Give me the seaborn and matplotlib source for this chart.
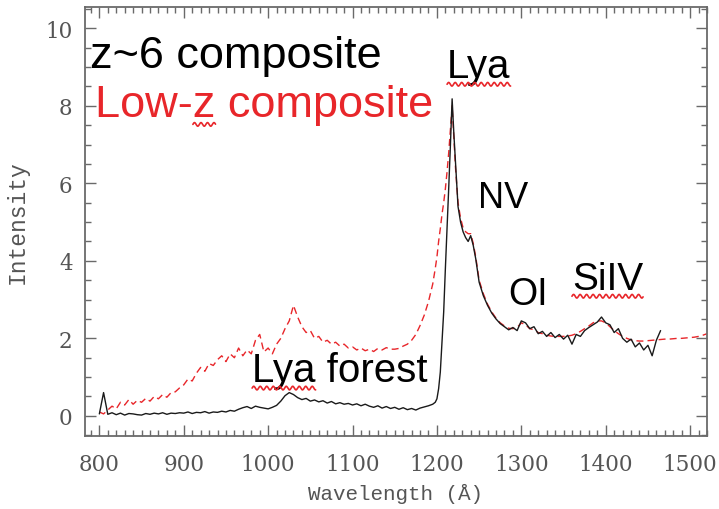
import numpy as np
import pandas as pd
import matplotlib
matplotlib.use("Agg")
import matplotlib.pyplot as plt
from matplotlib.lines import Line2D
from matplotlib.transforms import IdentityTransform
from matplotlib.ticker import MultipleLocator
import seaborn as sns

# ---------------- data ----------------
wl_forest = list(range(800, 1200, 5))
wl_peak = [1198, 1200, 1202, 1204, 1206, 1208, 1210, 1212, 1214, 1216, 1218,
           1220, 1222, 1225, 1228, 1231, 1234, 1237, 1240, 1243, 1246]
wl_black_red = list(range(1250, 1470, 5))
wl_red_red = list(range(1250, 1525, 5))

z6_forest = [
    0.05, 0.60, 0.04, 0.08, 0.03, 0.07, 0.02, 0.06, 0.05, 0.03,
    0.02, 0.06, 0.04, 0.07, 0.05, 0.08, 0.04, 0.07, 0.06, 0.08,
    0.07, 0.10, 0.06, 0.09, 0.08, 0.11, 0.07, 0.10, 0.09, 0.12,
    0.10, 0.14, 0.12, 0.17, 0.21, 0.24, 0.19, 0.25, 0.22, 0.20,
    0.18, 0.22, 0.27, 0.38, 0.52, 0.60, 0.55, 0.47, 0.42, 0.45,
    0.38, 0.41, 0.36, 0.39, 0.33, 0.37, 0.31, 0.34, 0.30, 0.32,
    0.28, 0.31, 0.26, 0.30, 0.25, 0.22, 0.26, 0.20, 0.24, 0.19,
    0.22, 0.17, 0.21, 0.16, 0.19, 0.15, 0.20, 0.23, 0.26, 0.30,
]
z6_peak = [0.35, 0.44, 0.70, 1.13, 1.90, 2.68, 3.80, 4.83, 5.90, 7.00, 8.18,
           7.30, 6.55, 5.40, 5.00, 4.75, 4.60, 4.50, 4.65, 4.40, 4.05]
z6_red = [
    3.45, 3.10, 2.85, 2.65, 2.50, 2.38, 2.30, 2.22, 2.28, 2.20,
    2.45, 2.40, 2.25, 2.30, 2.12, 2.18, 2.05, 2.15, 2.02, 2.10,
    1.98, 2.08, 1.85, 2.10, 2.05, 2.20, 2.28, 2.35, 2.42, 2.55,
    2.40, 2.35, 2.15, 2.25, 2.00, 1.90, 1.98, 1.78, 1.88, 1.70,
    1.82, 1.55, 1.95, 2.20,
]

lowz_forest = [
    0.10, 0.05, 0.15, 0.25, 0.18, 0.35, 0.28, 0.42, 0.30, 0.40,
    0.35, 0.45, 0.38, 0.50, 0.44, 0.55, 0.48, 0.60, 0.62, 0.72,
    0.80, 0.95, 0.90, 1.10, 1.25, 1.15, 1.35, 1.30, 1.45, 1.55,
    1.40, 1.60, 1.50, 1.75, 1.55, 1.70, 1.60, 1.95, 2.10, 1.65,
    1.75, 1.60, 1.85, 2.00, 2.25, 2.45, 2.85, 2.55, 2.30, 2.15,
    2.20, 2.00, 2.05, 1.90, 1.95, 1.85, 1.90, 1.80, 1.85, 1.75,
    1.78, 1.70, 1.75, 1.68, 1.72, 1.66, 1.74, 1.70, 1.76, 1.72,
    1.72, 1.74, 1.80, 1.85, 1.95, 2.10, 2.33, 2.60, 2.95, 3.40,
]
lowz_peak = [3.80, 4.10, 4.50, 4.83, 5.20, 5.50, 5.86, 6.30, 6.80, 7.40, 8.00,
             7.20, 6.40, 5.50, 5.10, 4.85, 4.75, 4.70, 4.70, 4.45, 4.10]
lowz_red = [
    3.50, 3.15, 2.88, 2.68, 2.52, 2.40, 2.32, 2.26, 2.25, 2.28,
    2.40, 2.35, 2.25, 2.22, 2.15, 2.12, 2.08, 2.06, 2.05, 2.05,
    2.05, 2.06, 2.08, 2.12, 2.18, 2.25, 2.32, 2.40, 2.45, 2.45,
    2.40, 2.30, 2.20, 2.12, 2.05, 2.00, 1.96, 1.94, 1.93, 1.93,
    1.94, 1.95, 1.96, 1.97, 1.98, 1.98, 1.99, 2.00, 2.00, 2.01,
    2.02, 2.03, 2.05, 2.08, 2.12,
]

x_ticks = [800, 900, 1000, 1100, 1200, 1300, 1400, 1500]
y_ticks = [0, 2, 4, 6, 8, 10]

z6 = pd.DataFrame({"wl": wl_forest + wl_peak + wl_black_red,
                   "flux": z6_forest + z6_peak + z6_red})
lowz = pd.DataFrame({"wl": wl_forest + wl_peak + wl_red_red,
                     "flux": lowz_forest + lowz_peak + lowz_red})

# ---------------- style ----------------
sns.set_theme(style="ticks")
plt.rcParams["font.family"] = ["Liberation Sans", "DejaVu Sans"]

GRAY = "#6a6a6a"
LABEL = "#555555"
RED = "#e8262a"

fig = plt.figure(figsize=(7.19, 5.10), dpi=100)
ax = fig.add_axes([85 / 719, 1 - 437 / 510, (707 - 85) / 719, (437 - 8) / 510])
ax.set_facecolor("white")

sns.lineplot(data=lowz, x="wl", y="flux", ax=ax, color=RED, lw=1.0,
             linestyle=(0, (5, 3)), estimator=None, sort=False)
sns.lineplot(data=z6, x="wl", y="flux", ax=ax, color="#1a1a1a", lw=1.0,
             estimator=None, sort=False)

ax.set_xlim(783, 1520)
ax.set_ylim(-0.52, 10.55)
ax.set_xticks(x_ticks)
ax.set_yticks(y_ticks)
ax.xaxis.set_minor_locator(MultipleLocator(10))
ax.yaxis.set_minor_locator(MultipleLocator(0.5))

tickfont = "DejaVu Serif"
mono = "Liberation Mono"
ax.tick_params(which="both", direction="in", top=True, right=True,
               color=GRAY, width=1.0)
ax.tick_params(which="major", length=8, labelsize=15.5, labelcolor=LABEL)
ax.tick_params(axis="x", which="major", pad=12)
ax.tick_params(axis="y", which="major", pad=9)
ax.tick_params(which="minor", length=4)
for lab in ax.get_xticklabels() + ax.get_yticklabels():
    lab.set_fontfamily(tickfont)
for sp in ax.spines.values():
    sp.set_color(GRAY)
    sp.set_linewidth(1.3)

ax.set_xlabel("Wavelength (Å)", fontsize=15, color=LABEL, family=mono, labelpad=6)
ax.set_ylabel("Intensity", fontsize=16.5, color=LABEL, family=mono, labelpad=12)

# ---------------- annotations ----------------
t_z6 = ax.text(789, 9.0, "z~6 composite", fontsize=32.5, color="black",
               ha="left", va="baseline")
t_lowz = ax.text(795, 7.74, "Low-z composite", fontsize=32.5, color=RED,
                 ha="left", va="baseline")
t_lya = ax.text(1212, 8.75, "Lya", fontsize=29, color="black", ha="left", va="baseline")
t_nv = ax.text(1249, 5.39, "NV", fontsize=26, color="black", ha="left", va="baseline")
t_oi = ax.text(1285, 2.89, "OI", fontsize=27, color="black", ha="left", va="baseline")
t_si = ax.text(1360, 3.28, "SiIV", fontsize=28, color="black", ha="left", va="baseline")
t_lf = ax.text(981, 0.91, "Lya forest", fontsize=29, color="black", ha="left", va="baseline")

fig.canvas.draw()
renderer = fig.canvas.get_renderer()


def sub_width(t, s):
    if not s:
        return 0.0
    tmp = ax.text(0, 0, s, fontsize=t.get_fontsize(), family=t.get_fontfamily())
    w = tmp.get_window_extent(renderer).width
    tmp.remove()
    return w


def squiggle(t, i0, i1):
    bb = t.get_window_extent(renderer)
    s = t.get_text()
    x0 = bb.x0 + sub_width(t, s[:i0])
    x1 = bb.x0 + sub_width(t, s[:i1])
    base_y = bb.y0 + 0.5
    xs = np.linspace(x0, x1, 200)
    ys = base_y + 1.8 * np.sin(2 * np.pi * (xs - x0) / 6.5)
    fig.add_artist(Line2D(xs, ys, color=RED, lw=1.2, transform=IdentityTransform()))


squiggle(t_lya, 0, 3)
squiggle(t_si, 0, 4)
squiggle(t_lf, 0, 3)
squiggle(t_lowz, 4, 5)

fig.savefig("out.png", dpi=100, facecolor="white")
